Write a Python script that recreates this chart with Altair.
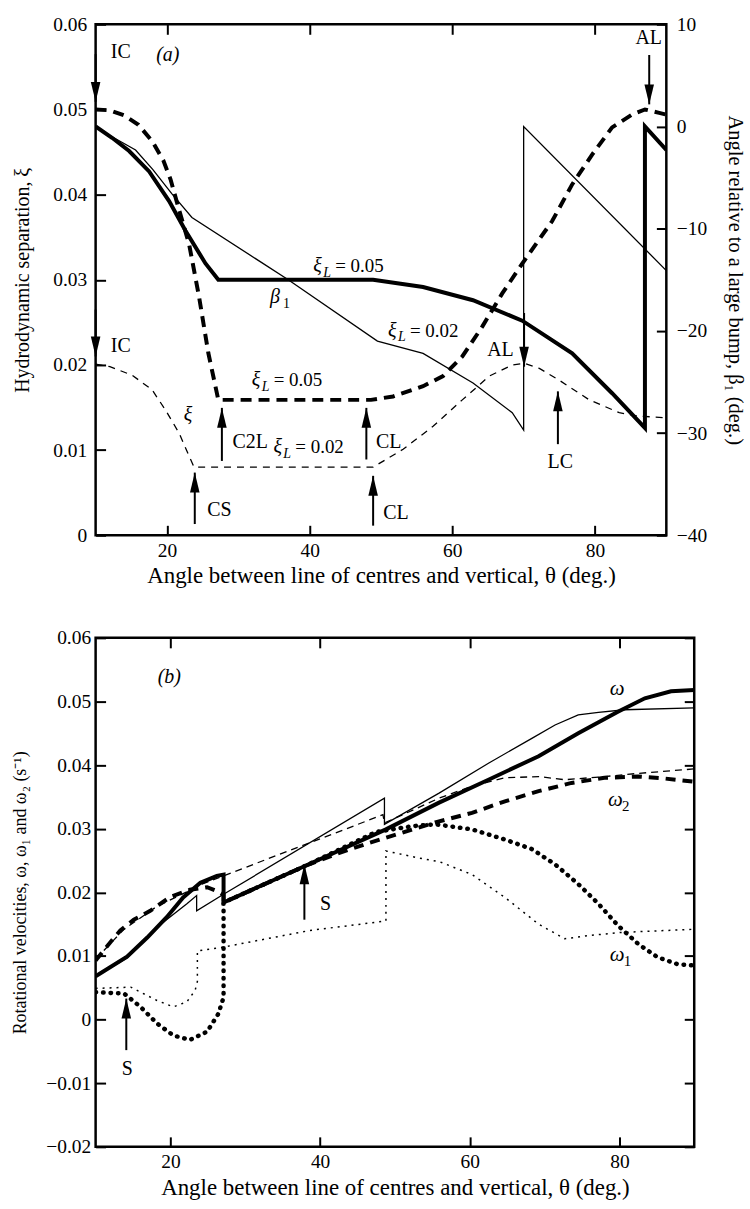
import altair as alt
import pandas as pd

FONT = "Liberation Serif"

# ---------------- panel (a) ----------------
a_xi05_theta = [10, 12, 14, 16, 18, 19.5, 20.5, 21.7, 23.1, 24.5, 25.8, 27.2, 48.6, 51.7, 55.9, 58.7, 61.4, 64.2, 67.0, 69.8, 74.0, 76.8, 79.6, 82.4, 85.2, 87.0, 89.0, 90]
a_xi05 = [0.0500, 0.0499, 0.0493, 0.0482, 0.0462, 0.0440, 0.0418, 0.0382, 0.0342, 0.0280, 0.0214, 0.0159, 0.0159, 0.0163, 0.0175, 0.0187, 0.0210, 0.0245, 0.0284, 0.0319, 0.0369, 0.0412, 0.0447, 0.0479, 0.0494, 0.0500, 0.0496, 0.0494]

a_xi02_theta = [10, 12, 15.1, 17.9, 19.8, 21.7, 23.1, 23.8, 48.9, 53.1, 57.3, 61.4, 65.2, 68.4, 70.1, 72.2, 75.0, 79.2, 83.4, 86.0, 90]
a_xi02 = [0.0201, 0.0198, 0.0188, 0.0171, 0.0147, 0.0120, 0.0093, 0.0080, 0.0080, 0.0101, 0.0128, 0.0159, 0.0187, 0.0200, 0.0202, 0.0196, 0.0182, 0.0159, 0.0144, 0.0140, 0.0138]

a_b05_theta = [10, 12.3, 14.7, 17.5, 20.3, 22.6, 25.4, 27.2, 48.9, 55.9, 62.9, 69.8, 76.8, 82.4, 87.0, 87.0, 90]
a_b05 = [0, -1.1, -2.4, -4.4, -7.3, -10.2, -13.4, -15.0, -15.0, -15.7, -17.0, -19.0, -22.2, -26.1, -29.5, 0, -2.3]

a_b02_theta = [10, 12.3, 15.6, 18.0, 20.7, 23.5, 37.0, 49.5, 55.9, 62.9, 68.4, 70.0, 70.0, 90]
a_b02 = [0, -1.0, -2.3, -4.2, -6.6, -8.9, -15.0, -21.0, -22.2, -25.1, -28.0, -29.7, 0, -14.1]

a_lab_text = ["IC", "IC", "AL", "AL", "C2L", "CS", "CL", "CL", "LC"]
a_lab_theta = [13.52, 13.52, 87.52, 66.75, 31.67, 27.35, 51.09, 52.09, 75.13]
a_lab_xi = [0.0567, 0.02226, 0.0584, 0.02177, 0.01098, 0.00298, 0.01098, 0.00257, 0.00865]

a_arrow_dir = ["down", "down", "down", "down", "up", "up", "up", "up", "up"]
a_arrow_theta = [10.0, 10.0, 87.6, 70.06, 27.7, 23.9, 47.95, 48.9, 74.8]
a_arrow_tail = [0.0565, 0.0265, 0.0564, 0.0261, 0.00873, 0.00132, 0.0089, 0.00113, 0.0107]
a_arrow_tip = [0.0509, 0.0210, 0.0506, 0.0198, 0.01496, 0.00736, 0.01496, 0.00698, 0.0169]

a_xiL_theta = [40.51, 31.89, 34.92, 50.98]
a_xiL_xi = [0.03093, 0.01749, 0.0097, 0.02334]
a_xiL_rest = ["= 0.05", "= 0.05", "= 0.02", "= 0.02"]

a_greek_text = ["β", "ξ"]
a_greek_sub = ["1", ""]
a_greek_theta = [34.46, 22.36]
a_greek_xi = [0.02723, 0.01344]

# ---------------- panel (b) ----------------
b_w05_theta = [10, 14.2, 16.9, 19.5, 21.7, 24.0, 26.2, 27.1, 27.1, 37.9, 48.8, 55.9, 62.5, 69.2, 74.5, 79.8, 83.4, 86.9, 90]
b_w05 = [0.0068, 0.0099, 0.0129, 0.0161, 0.0192, 0.0215, 0.0226, 0.0228, 0.0184, 0.0241, 0.0299, 0.0341, 0.0377, 0.0414, 0.0450, 0.0484, 0.0505, 0.0516, 0.0518]

b_w02_theta = [10, 14.2, 18.2, 22.2, 23.5, 23.5, 27.1, 48.6, 48.6, 55.9, 62.5, 68.3, 71.4, 74.5, 77.2, 80.7, 90]
b_w02 = [0.0068, 0.0097, 0.0145, 0.0182, 0.0195, 0.0171, 0.0197, 0.0348, 0.0307, 0.0356, 0.0403, 0.0442, 0.0463, 0.0479, 0.0483, 0.0487, 0.0490]

b_w2_05_theta = [10, 12, 13.3, 15.1, 17.3, 20, 22.6, 24.9, 26.4, 27.1, 27.1, 37.9, 42.1, 46.6, 51.0, 55.4, 60.3, 64.7, 69.2, 73.6, 78.0, 82.5, 86.0, 90]
b_w2_05 = [0.0093, 0.0122, 0.0140, 0.0157, 0.0171, 0.0193, 0.0204, 0.0208, 0.0201, 0.0196, 0.0184, 0.0241, 0.0260, 0.0278, 0.0294, 0.0310, 0.0325, 0.0343, 0.0359, 0.0372, 0.0380, 0.0382, 0.0379, 0.0374]

b_w2_02_theta = [10, 13.8, 18.2, 22.6, 24.0, 48.4, 48.6, 55.9, 60.3, 64.7, 69.2, 72.7, 78.0, 82.5, 90]
b_w2_02 = [0.0095, 0.0142, 0.0178, 0.0203, 0.0212, 0.0322, 0.0309, 0.0348, 0.0367, 0.0380, 0.0382, 0.0377, 0.0382, 0.0387, 0.0394]

b_w1_05_theta = [10, 13.8, 16.0, 18.2, 20.4, 22.6, 24.9, 26.4, 27.1, 27.1, 37.9, 47.5, 52.3, 55.4, 60.3, 64.7, 68.3, 71.4, 74.5, 77.2, 79.8, 82.5, 85.1, 87.8, 90]
b_w1_05 = [0.0043, 0.0041, 0.0020, -0.0006, -0.0025, -0.0032, -0.0019, 0.0009, 0.0035, 0.0184, 0.0241, 0.0295, 0.0304, 0.0307, 0.0299, 0.0283, 0.0268, 0.0244, 0.0213, 0.0182, 0.0148, 0.0119, 0.0098, 0.0087, 0.0085]

b_w1_02_theta = [10, 14.7, 18.2, 20.4, 22.2, 23.3, 23.6, 23.6, 27.1, 38.6, 48.8, 48.8, 53.2, 56.0, 60.3, 64.7, 69.2, 72.7, 75.8, 80.3, 90]
b_w1_02 = [0.0049, 0.0051, 0.0030, 0.0020, 0.0028, 0.0046, 0.0060, 0.0108, 0.0114, 0.0140, 0.0155, 0.0265, 0.0254, 0.0248, 0.0228, 0.0192, 0.0150, 0.0127, 0.0132, 0.0137, 0.0142]

b_lab_text = ["S", "S"]
b_lab_theta = [40.72, 14.22]
b_lab_v = [0.0182, -0.00778]

b_arrow_theta = [37.9, 14.1]
b_arrow_tail = [0.0157, -0.0048]
b_arrow_tip = [0.0244, 0.0033]

b_greek_sub = ["", "2", "1"]
b_greek_theta = [78.71, 78.48, 78.71]
b_greek_v = [0.05102, 0.03354, 0.00928]

x_ticks = [20, 40, 60, 80]
a_xi_ticks = [0, 0.01, 0.02, 0.03, 0.04, 0.05, 0.06]
a_beta_ticks = [-40, -30, -20, -10, 0, 10]
b_ticks = [-0.02, -0.01, 0, 0.01, 0.02, 0.03, 0.04, 0.05, 0.06]

X_TITLE = "Angle between line of centres and vertical, θ (deg.)"

# ---------------- helpers ----------------
xs = alt.Scale(domain=[10, 90], nice=False, zero=False)
s_xi = alt.Scale(domain=[0, 0.06], nice=False, zero=False)
s_beta = alt.Scale(domain=[-40, 10], nice=False, zero=False)
s_w = alt.Scale(domain=[-0.02, 0.06], nice=False, zero=False)

NUM_EXPR = "datum.value == 0 ? '0' : format(datum.value, '.2f')"
ANN = 20


def ldf(theta, v):
    return pd.DataFrame({"theta": theta, "v": v, "i": list(range(len(theta)))})


def line(theta, v, yscale, width, dash=None, cap="butt", xaxis=None, yaxis=None):
    kw = dict(color="black", strokeWidth=width, strokeCap=cap, clip=True, strokeJoin="miter")
    if dash is not None:
        kw["strokeDash"] = dash
    return alt.Chart(ldf(theta, v)).mark_line(**kw).encode(
        x=alt.X("theta:Q", scale=xs, axis=xaxis),
        y=alt.Y("v:Q", scale=yscale, axis=yaxis),
        order=alt.Order("i:Q"),
    )


UP = "M0,0L0.24,1L-0.24,1Z"
DOWN = "M0,0L0.24,-1L-0.24,-1Z"


def arrows(theta, tail, tip, dirs, yscale):
    df = pd.DataFrame({"theta": theta, "tail": tail, "tip": tip, "dir": dirs})
    base = alt.Chart(df)
    shaft = base.mark_rule(color="black", strokeWidth=2).encode(
        x=alt.X("theta:Q", scale=xs, axis=None),
        y=alt.Y("tail:Q", scale=yscale, axis=None),
        y2="tip:Q",
    )
    heads = []
    for d, shp in (("up", UP), ("down", DOWN)):
        heads.append(
            base.transform_filter(alt.datum.dir == d).mark_point(
                shape=shp, filled=True, size=1600, color="black", opacity=1, strokeWidth=0
            ).encode(
                x=alt.X("theta:Q", scale=xs, axis=None),
                y=alt.Y("tip:Q", scale=yscale, axis=None),
            )
        )
    return [shaft] + heads


def texts(df, yscale, **mk):
    return alt.Chart(df).mark_text(color="black", font=FONT, **mk).encode(
        x=alt.X("theta:Q", scale=xs, axis=None),
        y=alt.Y("v:Q", scale=yscale, axis=None),
        text="t:N",
    )


x_bottom = alt.Axis(orient="bottom", values=x_ticks, format="d", title=X_TITLE,
                    labelPadding=6, titlePadding=5, titleFontSize=23)
x_top = alt.Axis(orient="top", values=x_ticks, labels=False, title=None)

# ---------------- panel (a) chart ----------------
a_layers = [
    line(a_xi05_theta, a_xi05, s_xi, 4, dash=[11, 7], xaxis=x_bottom,
         yaxis=alt.Axis(orient="left", values=a_xi_ticks, labelExpr=NUM_EXPR,
                        title="Hydrodynamic separation, ξ", labelPadding=9, titlePadding=20)),
    line(a_xi02_theta, a_xi02, s_xi, 1.3, dash=[7, 6]),
    line(a_b05_theta, a_b05, s_beta, 4, xaxis=x_top,
         yaxis=alt.Axis(orient="right", values=a_beta_ticks, format="d", titleFontSize=20.5,
                        title="Angle relative to a large bump, β₁ (deg.)", labelPadding=10, titlePadding=18)),
    line(a_b02_theta, a_b02, s_beta, 1.3),
]
a_layers += arrows(a_arrow_theta, a_arrow_tail, a_arrow_tip, a_arrow_dir, s_xi)
a_layers.append(texts(pd.DataFrame({"theta": a_lab_theta, "v": a_lab_xi, "t": a_lab_text}), s_xi,
                      fontSize=ANN, align="center", baseline="middle"))
a_layers.append(texts(pd.DataFrame({"theta": [20.12], "v": [0.0564], "t": ["(a)"]}), s_xi,
                      fontSize=ANN, align="center", baseline="middle", fontStyle="italic"))
xl = pd.DataFrame({"theta": a_xiL_theta, "v": a_xiL_xi, "rest": a_xiL_rest})
a_layers.append(texts(xl.assign(t="ξ"), s_xi, fontSize=20, align="left", baseline="alphabetic", fontStyle="italic"))
a_layers.append(texts(xl.assign(t="L"), s_xi, fontSize=14, align="left", baseline="alphabetic",
                      fontStyle="italic", dx=10, dy=5))
a_layers.append(texts(xl.assign(t=xl["rest"]), s_xi, fontSize=19, align="left", baseline="alphabetic", dx=22))
gk = pd.DataFrame({"theta": a_greek_theta, "v": a_greek_xi, "t": a_greek_text, "sub": a_greek_sub})
a_layers.append(texts(gk, s_xi, fontSize=20, align="left", baseline="alphabetic", fontStyle="italic"))
a_layers.append(texts(gk.assign(t=gk["sub"]), s_xi, fontSize=14, align="left", baseline="alphabetic", dx=13, dy=5))

top = alt.layer(*a_layers).resolve_scale(y="independent").resolve_axis(x="independent").properties(
    width=573, height=513)

# ---------------- panel (b) chart ----------------
b_layers = [
    line(b_w05_theta, b_w05, s_w, 4, xaxis=x_bottom,
         yaxis=alt.Axis(orient="left", values=b_ticks, labelExpr=NUM_EXPR, titleFontSize=18,
                        title="Rotational  velocities, ω, ω₁ and ω₂ (s⁻¹)", labelPadding=5, titlePadding=16)),
    line(b_w02_theta, b_w02, s_w, 1.3, xaxis=x_top,
         yaxis=alt.Axis(orient="right", values=b_ticks, labels=False, title=None)),
    line(b_w2_05_theta, b_w2_05, s_w, 4, dash=[10, 7]),
    line(b_w2_02_theta, b_w2_02, s_w, 1.3, dash=[7, 5]),
    line(b_w1_05_theta, b_w1_05, s_w, 4.5, dash=[0.5, 7], cap="round"),
    line(b_w1_02_theta, b_w1_02, s_w, 1.5, dash=[2, 5]),
]
b_layers += arrows(b_arrow_theta, b_arrow_tail, b_arrow_tip, ["up", "up"], s_w)
b_layers.append(texts(pd.DataFrame({"theta": b_lab_theta, "v": b_lab_v, "t": b_lab_text}), s_w,
                      fontSize=ANN, align="center", baseline="middle"))
b_layers.append(texts(pd.DataFrame({"theta": [19.84], "v": [0.05388], "t": ["(b)"]}), s_w,
                      fontSize=ANN, align="center", baseline="middle", fontStyle="italic"))
bg = pd.DataFrame({"theta": b_greek_theta, "v": b_greek_v, "sub": b_greek_sub})
b_layers.append(texts(bg.assign(t="ω"), s_w, fontSize=21, align="left", baseline="alphabetic", fontStyle="italic"))
b_layers.append(texts(bg.assign(t=bg["sub"]), s_w, fontSize=15, align="left", baseline="alphabetic", dx=14, dy=5))

bottom = alt.layer(*b_layers).resolve_scale(y="independent").resolve_axis(x="independent").properties(
    width=601, height=511)

chart = alt.vconcat(top, bottom, spacing=37).properties(
    padding={"left": 10, "top": 10, "right": 4, "bottom": 5},
    background="white",
).configure_view(stroke="black", strokeWidth=2.5).configure_axis(
    labelFont=FONT, labelFontSize=19.5, labelColor="black",
    titleFont=FONT, titleFontSize=20, titleFontWeight="normal", titleColor="black",
    tickColor="black", tickWidth=2, tickSize=10, offset=-10, domain=False, grid=False,
)

chart.save("out.html", embed_options={"renderer": "svg", "actions": False})
